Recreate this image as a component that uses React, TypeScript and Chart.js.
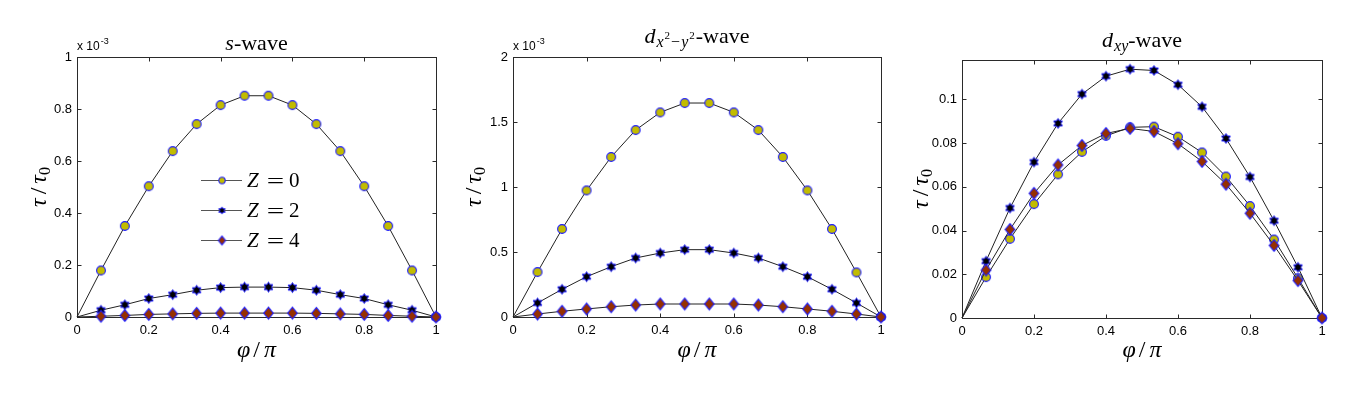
import React, { useEffect, useRef } from "react";
import { Chart, registerables } from "chart.js";

Chart.register(...registerables);

// ---------- data ----------
const phiOverPi = [0, 0.0667, 0.1333, 0.2, 0.2667, 0.3333, 0.4, 0.4667, 0.5333, 0.6, 0.6667, 0.7333, 0.8, 0.8667, 0.9333, 1];
const xTicks = [0, 0.2, 0.4, 0.6, 0.8, 1];

// s-wave, values in units of 10^-3
const sWaveZ0 = [0, 0.179, 0.35, 0.503, 0.638, 0.742, 0.815, 0.851, 0.851, 0.815, 0.742, 0.638, 0.503, 0.35, 0.179, 0];
const sWaveZ2 = [0, 0.026, 0.047, 0.071, 0.086, 0.103, 0.113, 0.115, 0.115, 0.113, 0.103, 0.086, 0.071, 0.047, 0.026, 0];
const sWaveZ4 = [0, 0.003, 0.006, 0.01, 0.012, 0.014, 0.015, 0.015, 0.015, 0.015, 0.014, 0.012, 0.01, 0.006, 0.003, 0];
const sWaveTicks = [0, 0.2, 0.4, 0.6, 0.8, 1];

// d_{x^2-y^2}-wave, values in units of 10^-3
const dx2y2Z0 = [0, 0.346, 0.677, 0.974, 1.231, 1.438, 1.574, 1.646, 1.646, 1.574, 1.438, 1.231, 0.974, 0.677, 0.343, 0];
const dx2y2Z2 = [0, 0.108, 0.213, 0.31, 0.387, 0.454, 0.492, 0.518, 0.518, 0.492, 0.454, 0.387, 0.31, 0.213, 0.108, 0];
const dx2y2Z4 = [0, 0.023, 0.044, 0.062, 0.079, 0.092, 0.1, 0.1, 0.1, 0.1, 0.092, 0.079, 0.062, 0.044, 0.023, 0];
const dx2y2Ticks = [0, 0.5, 1, 1.5, 2];

// d_{xy}-wave
const dxyZ0 = [0, 0.0187, 0.0362, 0.0521, 0.0657, 0.076, 0.0833, 0.0872, 0.0875, 0.0829, 0.0757, 0.0647, 0.0512, 0.0359, 0.0182, 0];
const dxyZ2 = [0, 0.026, 0.0503, 0.0713, 0.089, 0.1024, 0.1106, 0.1138, 0.1132, 0.1067, 0.0966, 0.0821, 0.0645, 0.0445, 0.0232, 0];
const dxyZ4 = [0, 0.0219, 0.0405, 0.057, 0.07, 0.0789, 0.0844, 0.0867, 0.0853, 0.0797, 0.0716, 0.0612, 0.0479, 0.0332, 0.0171, 0];
const dxyTicks = [0, 0.02, 0.04, 0.06, 0.08, 0.1];

const legendLabels = ["0", "2", "4"];

// ---------- styling ----------
const SERIF = '"Liberation Serif", "Times New Roman", serif';
const SANS = '"Liberation Sans", Arial, Helvetica, sans-serif';
const EDGE = "#1a1aff";
const YELLOW = "#c2bc00";
const BROWN = "#963000";
const H = 402;

function makeCanvas(w: number, h: number) {
  const c = document.createElement("canvas");
  c.width = w;
  c.height = h;
  return c;
}

function circleMarker(r: number) {
  const s = Math.ceil(r * 2 + 3);
  const c = makeCanvas(s, s);
  const ctx = c.getContext("2d")!;
  ctx.beginPath();
  ctx.arc(s / 2, s / 2, r, 0, Math.PI * 2);
  ctx.fillStyle = YELLOW;
  ctx.fill();
  ctx.lineWidth = 1.1;
  ctx.strokeStyle = EDGE;
  ctx.stroke();
  return c;
}

function hexagramMarker(R: number) {
  const s = Math.ceil(R * 2 + 3);
  const c = makeCanvas(s, s);
  const ctx = c.getContext("2d")!;
  const r = R / Math.sqrt(3);
  ctx.beginPath();
  for (let i = 0; i < 12; i++) {
    const a = -Math.PI / 2 + (i * Math.PI) / 6;
    const rr = i % 2 === 0 ? R : r;
    const x = s / 2 + rr * Math.cos(a);
    const y = s / 2 + rr * Math.sin(a);
    if (i === 0) ctx.moveTo(x, y);
    else ctx.lineTo(x, y);
  }
  ctx.closePath();
  ctx.fillStyle = "#000";
  ctx.fill();
  ctx.lineWidth = 1;
  ctx.strokeStyle = EDGE;
  ctx.stroke();
  return c;
}

function diamondMarker(hw: number, hh: number) {
  const w = Math.ceil(hw * 2 + 3);
  const h = Math.ceil(hh * 2 + 3);
  const c = makeCanvas(w, h);
  const ctx = c.getContext("2d")!;
  ctx.beginPath();
  ctx.moveTo(w / 2, h / 2 - hh);
  ctx.lineTo(w / 2 + hw, h / 2);
  ctx.lineTo(w / 2, h / 2 + hh);
  ctx.lineTo(w / 2 - hw, h / 2);
  ctx.closePath();
  ctx.fillStyle = BROWN;
  ctx.fill();
  ctx.lineWidth = 1.1;
  ctx.strokeStyle = EDGE;
  ctx.stroke();
  return c;
}

type Run = { t: string; f: string; dy?: number; dx?: number };

function runsWidth(ctx: CanvasRenderingContext2D, runs: Run[]) {
  let w = 0;
  for (const r of runs) {
    ctx.font = r.f;
    w += (r.dx || 0) + ctx.measureText(r.t).width;
  }
  return w;
}

function drawRuns(ctx: CanvasRenderingContext2D, runs: Run[], x0: number, baseline: number, center: boolean) {
  let x = center ? x0 - runsWidth(ctx, runs) / 2 : x0;
  ctx.textAlign = "left";
  ctx.textBaseline = "alphabetic";
  for (const r of runs) {
    ctx.font = r.f;
    x += r.dx || 0;
    ctx.fillText(r.t, x, baseline + (r.dy || 0));
    x += ctx.measureText(r.t).width;
  }
}

type PanelCfg = {
  left: number;
  width: number;
  area: { left: number; right: number; top: number; bottom: number };
  yMax: number;
  yTicks: number[];
  series: number[][];
  title: Run[];
  titleBaseline: number;
  multiplier: boolean;
  yTitleX: number;
  legend: boolean;
};

const it = (s: number) => `italic ${s}px ${SERIF}`;
const rm = (s: number) => `${s}px ${SERIF}`;

const panels: PanelCfg[] = [
  {
    left: 0,
    width: 452,
    area: { left: 77, right: 436, top: 57, bottom: 317 },
    yMax: 1,
    yTicks: sWaveTicks,
    series: [sWaveZ0, sWaveZ2, sWaveZ4],
    title: [
      { t: "s", f: it(22) },
      { t: "-wave", f: rm(22) },
    ],
    titleBaseline: 50,
    multiplier: true,
    yTitleX: 38,
    legend: true,
  },
  {
    left: 452,
    width: 452,
    area: { left: 61, right: 429, top: 57, bottom: 317 },
    yMax: 2,
    yTicks: dx2y2Ticks,
    series: [dx2y2Z0, dx2y2Z2, dx2y2Z4],
    title: [
      { t: "d", f: it(22) },
      { t: "x", f: it(16), dy: 4, dx: 1 },
      { t: "2", f: rm(11), dy: -4, dx: 1 },
      { t: "−", f: rm(16), dy: 4, dx: 1 },
      { t: "y", f: it(16), dy: 4, dx: 1 },
      { t: "2", f: rm(11), dy: -4, dx: 1 },
      { t: "-wave", f: rm(22), dx: 1 },
    ],
    titleBaseline: 43,
    multiplier: true,
    yTitleX: 21,
    legend: false,
  },
  {
    left: 904,
    width: 453,
    area: { left: 58, right: 418, top: 60, bottom: 318 },
    yMax: 0.118,
    yTicks: dxyTicks,
    series: [dxyZ0, dxyZ2, dxyZ4],
    title: [
      { t: "d", f: it(22) },
      { t: "xy", f: it(16), dy: 4, dx: 1 },
      { t: "-wave", f: rm(22) },
    ],
    titleBaseline: 47,
    multiplier: false,
    yTitleX: 16,
    legend: false,
  },
];

function Panel({ cfg }: { cfg: PanelCfg }) {
  const ref = useRef<HTMLCanvasElement>(null);

  useEffect(() => {
    const canvas = ref.current!;
    const markers = [circleMarker(4.4), hexagramMarker(5.0), diamondMarker(4.8, 5.8)];
    const smallMarkers = [circleMarker(3.2), hexagramMarker(3.6), diamondMarker(3.6, 4.4)];
    const a = cfg.area;

    const matlab = {
      id: "matlab",
      beforeDatasetsDraw(chart: any) {
        const ctx: CanvasRenderingContext2D = chart.ctx;
        const ca = chart.chartArea;
        const xs = chart.scales.x;
        const ys = chart.scales.y;
        ctx.save();
        ctx.strokeStyle = "#2a2a2a";
        ctx.lineWidth = 1;
        const L = Math.round(ca.left) + 0.5;
        const R = Math.round(ca.right) + 0.5;
        const T = Math.round(ca.top) + 0.5;
        const B = Math.round(ca.bottom) + 0.5;
        ctx.strokeRect(L, T, R - L, B - T);
        const tl = 4;
        ctx.beginPath();
        for (const v of xTicks) {
          const px = Math.round(xs.getPixelForValue(v)) + 0.5;
          ctx.moveTo(px, B);
          ctx.lineTo(px, B - tl);
          ctx.moveTo(px, T);
          ctx.lineTo(px, T + tl);
        }
        for (const v of cfg.yTicks) {
          const py = Math.round(ys.getPixelForValue(v)) + 0.5;
          ctx.moveTo(L, py);
          ctx.lineTo(L + tl, py);
          ctx.moveTo(R, py);
          ctx.lineTo(R - tl, py);
        }
        ctx.stroke();
        ctx.restore();
      },
      afterDraw(chart: any) {
        const ctx: CanvasRenderingContext2D = chart.ctx;
        const ca = chart.chartArea;
        const cx = (ca.left + ca.right) / 2;
        const cy = (ca.top + ca.bottom) / 2;
        ctx.save();
        ctx.fillStyle = "#000";
        // title
        drawRuns(ctx, cfg.title, cx, cfg.titleBaseline, true);
        // multiplier
        if (cfg.multiplier) {
          drawRuns(
            ctx,
            [
              { t: "x 10", f: `12px ${SANS}` },
              { t: "-3", f: `9px ${SANS}`, dy: -6, dx: 1 },
            ],
            ca.left,
            50,
            false
          );
        }
        // x title
        drawRuns(
          ctx,
          [
            { t: "φ", f: it(24) },
            { t: "/", f: rm(24), dx: 3 },
            { t: "π", f: it(24), dx: 4 },
          ],
          cx,
          357,
          true
        );
        // y title
        ctx.save();
        ctx.translate(cfg.yTitleX, cy);
        ctx.rotate(-Math.PI / 2);
        drawRuns(
          ctx,
          [
            { t: "τ", f: it(24), dy: 0 },
            { t: "/", f: rm(24), dx: 4 },
            { t: "τ", f: it(24), dx: 4 },
            { t: "0", f: rm(16), dy: 4 },
          ],
          0,
          8,
          true
        );
        ctx.restore();
        // legend
        if (cfg.legend) {
          const rows = [180, 210, 240];
          rows.forEach((y, i) => {
            ctx.strokeStyle = "#555";
            ctx.lineWidth = 1;
            ctx.beginPath();
            ctx.moveTo(201, y + 0.5);
            ctx.lineTo(242, y + 0.5);
            ctx.stroke();
            const m = smallMarkers[i];
            ctx.drawImage(m, 222 - m.width / 2, y + 0.5 - m.height / 2);
            ctx.fillStyle = "#000";
            ctx.textAlign = "left";
            ctx.textBaseline = "alphabetic";
            ctx.font = it(21);
            ctx.fillText("Z", 247, y + 7);
            ctx.save();
            ctx.translate(275.5, y + 7.5);
            ctx.scale(1.4, 1);
            ctx.font = rm(22);
            ctx.textAlign = "center";
            ctx.fillText("=", 0, 0);
            ctx.restore();
            ctx.font = rm(21);
            ctx.textAlign = "left";
            ctx.fillText(legendLabels[i], 289, y + 7);
          });
        }
        ctx.restore();
      },
    };

    const zOrder = [2, 1, 0];
    const chart = new Chart(canvas, {
      type: "line",
      data: {
        datasets: cfg.series.map((vals, i) => ({
          label: "Z = " + legendLabels[i],
          data: vals.map((v, k) => ({ x: phiOverPi[k], y: v })),
          borderColor: "#222",
          borderWidth: 1,
          pointStyle: markers[i] as any,
          pointRadius: vals.map((_, k) => (k === 0 ? 0 : 5)),
          tension: 0,
          clip: false as any,
          order: zOrder[i],
        })),
      },
      options: {
        animation: false,
        responsive: false,
        devicePixelRatio: 1,
        events: [],
        layout: {
          padding: { left: 0, top: a.top, right: cfg.width - a.right, bottom: 0 },
        },
        plugins: {
          legend: { display: false },
          tooltip: { enabled: false },
          title: { display: false },
        },
        scales: {
          x: {
            type: "linear",
            min: 0,
            max: 1,
            grid: { display: false, drawTicks: false },
            border: { display: false },
            afterFit: (s: any) => {
              s.height = H - a.bottom;
            },
            afterBuildTicks: (s: any) => {
              s.ticks = xTicks.map((v) => ({ value: v }));
            },
            ticks: {
              color: "#000",
              padding: 6,
              maxRotation: 0,
              font: { family: SANS, size: 13 },
              callback: (v: any) => String(v),
            },
          },
          y: {
            type: "linear",
            min: 0,
            max: cfg.yMax,
            grid: { display: false, drawTicks: false },
            border: { display: false },
            afterFit: (s: any) => {
              s.width = a.left;
            },
            afterBuildTicks: (s: any) => {
              s.ticks = cfg.yTicks.map((v) => ({ value: v }));
            },
            ticks: {
              color: "#000",
              padding: 5,
              font: { family: SANS, size: 13 },
              callback: (v: any) => String(v),
            },
          },
        },
      },
      plugins: [matlab],
    } as any);

    return () => chart.destroy();
  }, [cfg]);

  return (
    <canvas
      ref={ref}
      width={cfg.width}
      height={H}
      style={{ position: "absolute", left: cfg.left, top: 0, width: cfg.width, height: H }}
    />
  );
}

export default function App() {
  return (
    <div style={{ position: "absolute", left: 0, top: 0, width: 1357, height: H, background: "#fff" }}>
      {panels.map((p, i) => (
        <Panel key={i} cfg={p} />
      ))}
    </div>
  );
}
